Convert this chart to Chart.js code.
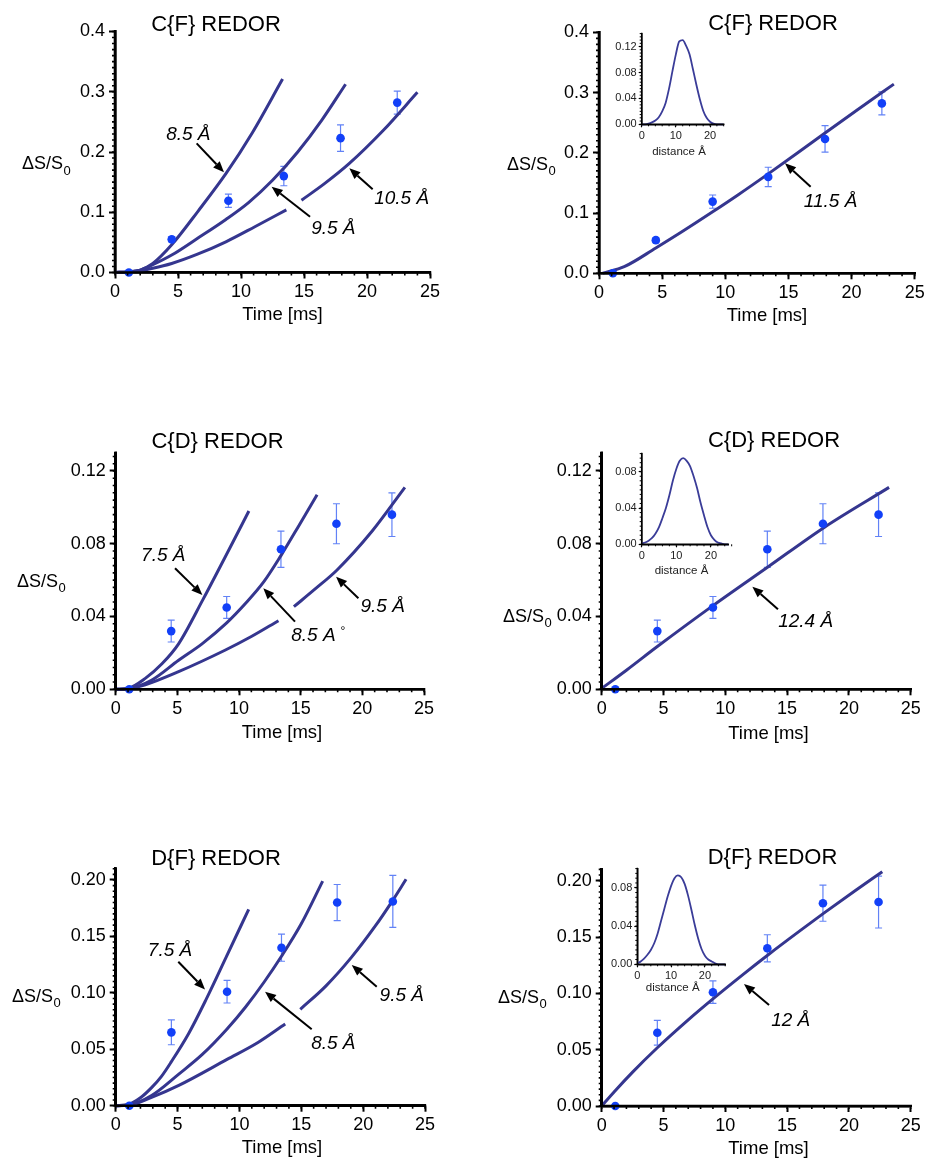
<!DOCTYPE html>
<html>
<head>
<meta charset="utf-8">
<script src="https://cdn.jsdelivr.net/npm/chart.js@4.4.1/dist/chart.umd.min.js"></script>
<style>
  body { margin: 0; background: #fff; width: 928px; height: 1162px; position: relative; overflow: hidden; }
  canvas { position: absolute; }
</style>
</head>
<body>
<script>
// ---------- measured data ----------
var times = [1.1, 4.5, 9.0, 13.4, 17.9, 22.4];

var cfValues = [0, 0.055, 0.119, 0.160, 0.223, 0.282];
var cfErrors = [0, 0.004, 0.011, 0.016, 0.022, 0.019];
var cdValues = [0, 0.032, 0.045, 0.077, 0.091, 0.096];
var cdErrors = [0, 0.006, 0.006, 0.010, 0.011, 0.012];
var dfValues = [0, 0.065, 0.101, 0.140, 0.180, 0.181];
var dfErrors = [0, 0.011, 0.010, 0.012, 0.016, 0.023];

// ---------- simulated curves (time, value) ----------
var cf85T = [0, 1, 2, 3, 4.5, 6.6, 8.8, 10.9, 13.3];
var cf85V = [0, 0.001, 0.004, 0.015, 0.046, 0.102, 0.164, 0.232, 0.321];
var cf95T = [0, 1, 2, 3, 4.5, 6.5, 8.8, 10.6, 12.5, 14.5, 16.4, 18.3];
var cf95V = [0, 0.001, 0.004, 0.013, 0.029, 0.056, 0.088, 0.116, 0.153, 0.200, 0.2525, 0.3125];
var cf105aT = [0, 1, 2, 3, 4.5, 6.5, 8.8, 11.1, 13.6];
var cf105aV = [0, 0.001, 0.003, 0.007, 0.015, 0.030, 0.051, 0.076, 0.104];
var cf105bT = [14.8, 16.6, 18.6, 21.3, 24.0];
var cf105bV = [0.120, 0.147, 0.181, 0.236, 0.299];
var cf115T = [0.3, 2, 4.5, 6.5, 9, 11, 13.4, 15.6, 17.9, 20.5, 23.35];
var cf115V = [0, 0.011, 0.042, 0.068, 0.102, 0.130, 0.165, 0.198, 0.233, 0.272, 0.314];

var cd75T = [0, 1, 2.4, 3.75, 5.1, 7.05, 8.9, 10.8];
var cd75V = [0, 0.0005, 0.006, 0.014, 0.025, 0.049, 0.073, 0.098];
var cd85T = [0, 1, 2.9, 5.1, 7, 9, 10.5, 12, 13.4, 14.9, 16.33];
var cd85V = [0, 0.0004, 0.005, 0.016, 0.025, 0.0365, 0.047, 0.059, 0.0735, 0.0905, 0.107];
var cd95aT = [0, 1, 2.4, 5.1, 8.9, 11, 13.2];
var cd95aV = [0, 0.0003, 0.0025, 0.0097, 0.0216, 0.029, 0.0377];
var cd95bT = [14.45, 16.2, 17.95, 20.8, 23.45];
var cd95bV = [0.0454, 0.0553, 0.0656, 0.087, 0.111];
var cd124T = [0, 2, 4.5, 9, 13.5, 18, 23.25];
var cd124V = [0.0005, 0.0105, 0.0235, 0.046, 0.0675, 0.089, 0.111];

var df75T = [0, 1, 2, 2.9, 3.7, 4.5, 5.9, 7.3, 8.9, 10.75];
var df75V = [0, 0.001, 0.007, 0.016, 0.026, 0.039, 0.064, 0.094, 0.131, 0.174];
var df85T = [0, 1, 2.9, 5.1, 7, 9, 10.5, 12, 13.4, 15, 16.73];
var df85V = [0, 0.0005, 0.009, 0.028, 0.0454, 0.068, 0.0875, 0.1096, 0.1324, 0.1612, 0.199];
var df95aT = [0, 1, 2.9, 5.1, 9, 11.5, 13.7];
var df95aV = [0, 0.0003, 0.0074, 0.018, 0.041, 0.056, 0.0724];
var df95bT = [14.92, 17, 19.05, 21, 22.34, 23.47];
var df95bV = [0.0854, 0.1062, 0.1314, 0.1595, 0.1811, 0.2006];
var df12T = [0, 1, 2.5, 4.5, 7, 9, 11.5, 13.5, 16, 18, 20.5, 22.7];
var df12V = [0, 0.0125, 0.0301, 0.0517, 0.0765, 0.0951, 0.1173, 0.1345, 0.1552, 0.1714, 0.1911, 0.208];

// ---------- distance distributions (insets) ----------
var distX = [0, 1, 2, 3, 4, 5, 6, 7, 8, 9, 10, 11, 12, 13, 14, 15, 16, 17, 18, 19, 20, 21, 22, 23, 24, 25, 26];
var distCF = [0, 0, 0.001, 0.003, 0.006, 0.011, 0.02, 0.033, 0.055, 0.082, 0.108, 0.128, 0.130, 0.121, 0.108, 0.085, 0.061, 0.039, 0.021, 0.010, 0.004, 0.001, 0, 0, 0];
var distCD = [0.001, 0.002, 0.004, 0.007, 0.012, 0.019, 0.029, 0.040, 0.054, 0.070, 0.083, 0.092, 0.095, 0.092, 0.086, 0.075, 0.062, 0.046, 0.032, 0.019, 0.010, 0.005, 0.002, 0.001, 0, 0];
var distDF = [0.001, 0.003, 0.006, 0.010, 0.015, 0.022, 0.032, 0.045, 0.058, 0.071, 0.082, 0.090, 0.093, 0.091, 0.084, 0.072, 0.057, 0.041, 0.027, 0.016, 0.009, 0.005, 0.003, 0.001, 0, 0, 0];

// ---------- tick values ----------
var timeTicks = [0, 5, 10, 15, 20, 25];
var cfTicks = [0, 0.1, 0.2, 0.3, 0.4];
var cdTicks = [0, 0.04, 0.08, 0.12];
var dfTicks = [0, 0.05, 0.10, 0.15, 0.20];
var distTicks = [0, 10, 20];
var insetCfTicks = [0, 0.04, 0.08, 0.12];
var insetTicks = [0, 0.04, 0.08];

// ---------- styling ----------
var FONT = '"Liberation Sans", Arial, Helvetica, sans-serif';
var CURVE = '#35368f';
var POINT = '#1240f8';
var ERR = '#6282f6';

function pts(xs, ys) {
    return xs.map(function(x, i) { return { x: x, y: ys[i] }; });
}

function arrow(ctx, x1, y1, x2, y2) {
    var a = Math.atan2(y2 - y1, x2 - x1);
    var hl = 11, hw = 4.5;
    var bx = x2 - hl * Math.cos(a), by = y2 - hl * Math.sin(a);
    ctx.strokeStyle = '#000';
    ctx.lineWidth = 2;
    ctx.beginPath();
    ctx.moveTo(x1, y1);
    ctx.lineTo(bx, by);
    ctx.stroke();
    ctx.fillStyle = '#000';
    ctx.beginPath();
    ctx.moveTo(x2, y2);
    ctx.lineTo(bx + hw * Math.sin(a), by - hw * Math.cos(a));
    ctx.lineTo(bx - hw * Math.sin(a), by + hw * Math.cos(a));
    ctx.closePath();
    ctx.fill();
}

// main panels: box = canvas rect on page, area = plot rect on page
var panels = [
    { box: [0, 0, 464, 400], area: [115, 430, 31.5, 272.5], yMax: 0.4, yTicks: cfTicks, dec: 1, yMinor: 0.01,
      values: cfValues, errors: cfErrors,
      curves: [[cf85T, cf85V], [cf95T, cf95V], [cf105aT, cf105aV], [cf105bT, cf105bV]],
      title: 'C{F} REDOR', titlePos: [216, 31], yLab: [22, 169], xLab: [282.5, 320],
      notes: [
          { text: '8.5 Å', at: [5.82, 0.232], from: [6.48, 0.2144], to: [8.65, 0.1663] },
          { text: '9.5 Å', at: [17.33, 0.076], from: [15.48, 0.0926], to: [12.43, 0.1424] },
          { text: '10.5 Å', at: [22.75, 0.1258], from: [20.45, 0.138], to: [18.6, 0.173] }
      ] },
    { box: [464, 0, 464, 400], area: [599, 914.7, 32.3, 273.3], yMax: 0.4, yTicks: cfTicks, dec: 1, yMinor: 0.01,
      values: cfValues, errors: cfErrors,
      curves: [[cf115T, cf115V]],
      title: 'C{F} REDOR', titlePos: [773, 29.5], yLab: [507, 169.5], xLab: [767, 321],
      notes: [
          { text: '11.5 Å', at: [18.34, 0.1217], from: [16.76, 0.1438], to: [14.73, 0.1826] }
      ] },
    { box: [0, 400, 464, 400], area: [115.7, 424, 452.8, 689.3], yMax: 0.13, yTicks: cdTicks, dec: 2, yMinor: 0.004,
      values: cdValues, errors: cdErrors,
      curves: [[cd75T, cd75V], [cd85T, cd85V], [cd95aT, cd95aV], [cd95bT, cd95bV]],
      title: 'C{D} REDOR', titlePos: [217.5, 447.5], yLab: [17, 586.5], xLab: [282, 738],
      notes: [
          { text: '7.5 Å', at: [3.86, 0.0748], from: [4.81, 0.0665], to: [7.03, 0.0518] },
          { text: '8.5 A', sup: '°', at: [16.43, 0.0308], from: [14.54, 0.0372], to: [11.97, 0.0556] },
          { text: '9.5 Å', at: [21.65, 0.0463], from: [19.68, 0.050], to: [17.87, 0.0619] }
      ] },
    { box: [464, 400, 464, 400], area: [601.7, 910.7, 452.8, 689.3], yMax: 0.13, yTicks: cdTicks, dec: 2, yMinor: 0.004,
      values: cdValues, errors: cdErrors,
      curves: [[cd124T, cd124V]],
      title: 'C{D} REDOR', titlePos: [774, 447], yLab: [503, 621.5], xLab: [768.5, 739],
      notes: [
          { text: '12.4 Å', at: [16.5, 0.0385], from: [14.26, 0.044], to: [12.19, 0.0564] }
      ] },
    { box: [0, 800, 464, 362], area: [115.7, 425, 868.7, 1105.7], yMax: 0.21, yTicks: dfTicks, dec: 2, yMinor: 0.005,
      values: dfValues, errors: dfErrors,
      curves: [[df75T, df75V], [df85T, df85V], [df95aT, df95aV], [df95bT, df95bV]],
      title: 'D{F} REDOR', titlePos: [216, 864.5], yLab: [12, 1001.5], xLab: [282, 1153],
      notes: [
          { text: '7.5 Å', at: [4.39, 0.1395], from: [5.06, 0.1276], to: [7.22, 0.103] },
          { text: '8.5 Å', at: [17.59, 0.0567], from: [15.84, 0.0677], to: [12.07, 0.101] },
          { text: '9.5 Å', at: [23.12, 0.0996], from: [21.1, 0.1055], to: [19.08, 0.1247] }
      ] },
    { box: [464, 800, 464, 362], area: [601.7, 910.7, 869.4, 1106], yMax: 0.21, yTicks: dfTicks, dec: 2, yMinor: 0.005,
      values: dfValues, errors: dfErrors,
      curves: [[df12T, df12V]],
      title: 'D{F} REDOR', titlePos: [772.5, 863.5], yLab: [498, 1002.5], xLab: [768.5, 1154],
      notes: [
          { text: '12 Å', at: [15.29, 0.0778], from: [13.54, 0.0896], to: [11.51, 0.1083] }
      ] }
];

var insets = [
    { box: [600, 25, 130, 135], area: [641.7, 723.7, 31.9, 124.3], xMax: 24, yMax: 0.14, yTicks: insetCfTicks,
      dist: distCF, label: [679, 155] },
    { box: [600, 445, 135, 135], area: [641.7, 728.2, 452.7, 544.3], xMax: 25, yMax: 0.1, yTicks: insetTicks,
      dist: distCD, label: [681.5, 573.5] },
    { box: [595, 860, 140, 140], area: [637.3, 725.2, 868.5, 964.3], xMax: 26, yMax: 0.1, yTicks: insetTicks,
      dist: distDF, label: [672.7, 990.7] }
];

function addCanvas(box) {
    var cv = document.createElement('canvas');
    cv.width = box[2];
    cv.height = box[3];
    cv.style.left = box[0] + 'px';
    cv.style.top = box[1] + 'px';
    document.body.appendChild(cv);
    return cv;
}

function minorTicks(chart, xMax, xStep, yMax, yStep, len, width) {
    var ctx = chart.ctx, a = chart.chartArea;
    var xs = chart.scales.x, ys = chart.scales.y;
    ctx.strokeStyle = '#000';
    ctx.lineWidth = width;
    ctx.beginPath();
    var n = Math.round(xMax / xStep);
    for (var i = 0; i <= n; i++) {
        var px = xs.getPixelForValue(i * xStep);
        ctx.moveTo(px, a.bottom);
        ctx.lineTo(px, a.bottom + len);
    }
    n = Math.floor(yMax / yStep + 1e-6);
    for (var j = 0; j <= n; j++) {
        var py = ys.getPixelForValue(j * yStep);
        ctx.moveTo(a.left - len, py);
        ctx.lineTo(a.left, py);
    }
    ctx.stroke();
}

function axisLines(chart, width) {
    var ctx = chart.ctx, a = chart.chartArea;
    ctx.strokeStyle = '#000';
    ctx.lineWidth = width;
    ctx.lineCap = 'square';
    ctx.beginPath();
    ctx.moveTo(a.left, a.top);
    ctx.lineTo(a.left, a.bottom);
    ctx.lineTo(a.right, a.bottom);
    ctx.stroke();
    ctx.lineCap = 'butt';
}

function makePanel(p) {
    var cv = addCanvas(p.box);
    var W = p.box[2], H = p.box[3], ox = p.box[0], oy = p.box[1];
    var datasets = [{
        data: pts(times, p.values), showLine: false, pointRadius: 4.3, pointHoverRadius: 4.3,
        backgroundColor: POINT, borderColor: POINT, borderWidth: 0, order: 0, clip: false
    }];
    p.curves.forEach(function(c) {
        datasets.push({
            data: pts(c[0], c[1]), showLine: true, pointRadius: 0, borderColor: CURVE, borderWidth: 3,
            cubicInterpolationMode: 'monotone', fill: false, order: 1, clip: false
        });
    });

    var decor = {
        id: 'decor',
        beforeDatasetsDraw: function(chart) {
            var ctx = chart.ctx, xs = chart.scales.x, ys = chart.scales.y;
            ctx.save();
            ctx.strokeStyle = ERR;
            ctx.lineWidth = 1.2;
            ctx.beginPath();
            times.forEach(function(t, i) {
                var e = p.errors[i];
                if (!e) return;
                var px = xs.getPixelForValue(t);
                var y1 = ys.getPixelForValue(p.values[i] - e), y2 = ys.getPixelForValue(p.values[i] + e);
                ctx.moveTo(px, y1); ctx.lineTo(px, y2);
                ctx.moveTo(px - 3.5, y1); ctx.lineTo(px + 3.5, y1);
                ctx.moveTo(px - 3.5, y2); ctx.lineTo(px + 3.5, y2);
            });
            ctx.stroke();
            ctx.restore();
        },
        afterDatasetsDraw: function(chart) {
            var ctx = chart.ctx;
            ctx.save();
            minorTicks(chart, 25, 1, p.yMax, p.yMinor, 3, 1.6);
            axisLines(chart, 2.6);
            ctx.restore();
        },
        afterDraw: function(chart) {
            var ctx = chart.ctx, xs = chart.scales.x, ys = chart.scales.y;
            ctx.save();
            ctx.fillStyle = '#000';
            // title
            ctx.font = '22px ' + FONT;
            ctx.textAlign = 'center';
            ctx.textBaseline = 'alphabetic';
            ctx.fillText(p.title, p.titlePos[0] - ox, p.titlePos[1] - oy);
            // x axis title
            ctx.font = '18.5px ' + FONT;
            ctx.fillText('Time [ms]', p.xLab[0] - ox, p.xLab[1] - oy);
            // y axis title with subscript
            ctx.textAlign = 'left';
            ctx.font = '18px ' + FONT;
            var s = 'ΔS/S';
            ctx.fillText(s, p.yLab[0] - ox, p.yLab[1] - oy);
            var w = ctx.measureText(s).width;
            ctx.font = '13px ' + FONT;
            ctx.fillText('0', p.yLab[0] - ox + w + 0.5, p.yLab[1] - oy + 5.5);
            // annotations
            p.notes.forEach(function(n) {
                arrow(ctx, xs.getPixelForValue(n.from[0]), ys.getPixelForValue(n.from[1]),
                      xs.getPixelForValue(n.to[0]), ys.getPixelForValue(n.to[1]));
                var cx = xs.getPixelForValue(n.at[0]), cy = ys.getPixelForValue(n.at[1]);
                ctx.fillStyle = '#000';
                ctx.font = 'italic 19px ' + FONT;
                ctx.textBaseline = 'middle';
                var tw = ctx.measureText(n.text).width;
                var sw = 0;
                if (n.sup) {
                    ctx.font = '12px ' + FONT;
                    sw = ctx.measureText(n.sup).width + 5;
                }
                var left = cx - (tw + sw) / 2;
                ctx.font = 'italic 19px ' + FONT;
                ctx.textAlign = 'left';
                ctx.fillText(n.text, left, cy + 2);
                if (n.sup) {
                    ctx.font = '12px ' + FONT;
                    ctx.fillText(n.sup, left + tw + 5, cy - 2);
                }
            });
            ctx.restore();
        }
    };

    new Chart(cv, {
        type: 'scatter',
        data: { datasets: datasets },
        options: {
            responsive: false,
            animation: false,
            events: [],
            layout: { autoPadding: false, padding: { left: 0, top: p.area[2] - oy, right: W - (p.area[1] - ox), bottom: 0 } },
            plugins: { legend: { display: false }, tooltip: { enabled: false } },
            scales: {
                x: {
                    type: 'linear', min: 0, max: 25,
                    afterBuildTicks: function(s) { s.ticks = timeTicks.map(function(v) { return { value: v }; }); },
                    afterFit: function(s) { s.height = H - (p.area[3] - oy); },
                    ticks: { color: '#000', font: { family: FONT, size: 18 }, padding: 3, maxRotation: 0, autoSkip: false,
                             callback: function(v) { return String(v); } },
                    grid: { drawOnChartArea: false, drawTicks: true, tickLength: 6, tickWidth: 2, tickColor: '#000' },
                    border: { display: true, color: '#000', width: 2.6 }
                },
                y: {
                    type: 'linear', min: 0, max: p.yMax,
                    afterBuildTicks: function(s) { s.ticks = p.yTicks.map(function(v) { return { value: v }; }); },
                    afterFit: function(s) { s.width = p.area[0] - ox; },
                    ticks: { color: '#000', font: { family: FONT, size: 18 }, padding: 4, autoSkip: false,
                             callback: function(v) { return v.toFixed(p.dec); } },
                    grid: { drawOnChartArea: false, drawTicks: true, tickLength: 6, tickWidth: 2, tickColor: '#000' },
                    border: { display: true, color: '#000', width: 2.6 }
                }
            }
        },
        plugins: [decor]
    });
}

function makeInset(q) {
    var cv = addCanvas(q.box);
    var W = q.box[2], H = q.box[3], ox = q.box[0], oy = q.box[1];
    var decor = {
        id: 'insetDecor',
        afterDatasetsDraw: function(chart) {
            var ctx = chart.ctx;
            ctx.save();
            minorTicks(chart, q.xMax, 2, q.yMax, 0.005, 2, 1);
            axisLines(chart, 1.5);
            ctx.restore();
        },
        afterDraw: function(chart) {
            var ctx = chart.ctx;
            ctx.save();
            ctx.fillStyle = '#222';
            ctx.font = '11.5px ' + FONT;
            ctx.textAlign = 'center';
            ctx.fillText('distance Å', q.label[0] - ox, q.label[1] - oy);
            ctx.restore();
        }
    };
    new Chart(cv, {
        type: 'scatter',
        data: { datasets: [{
            data: pts(distX.slice(0, q.dist.length), q.dist), showLine: true, pointRadius: 0,
            borderColor: '#3a3c98', borderWidth: 1.8, cubicInterpolationMode: 'monotone', fill: false, clip: false
        }] },
        options: {
            responsive: false,
            animation: false,
            events: [],
            layout: { autoPadding: false, padding: { left: 0, top: q.area[2] - oy, right: W - (q.area[1] - ox), bottom: 0 } },
            plugins: { legend: { display: false }, tooltip: { enabled: false } },
            scales: {
                x: {
                    type: 'linear', min: 0, max: q.xMax,
                    afterBuildTicks: function(s) { s.ticks = distTicks.map(function(v) { return { value: v }; }); },
                    afterFit: function(s) { s.height = H - (q.area[3] - oy); },
                    ticks: { color: '#222', font: { family: FONT, size: 11 }, padding: 2, maxRotation: 0, autoSkip: false,
                             callback: function(v) { return String(v); } },
                    grid: { drawOnChartArea: false, drawTicks: true, tickLength: 3, tickWidth: 1.2, tickColor: '#000' },
                    border: { display: true, color: '#000', width: 1.5 }
                },
                y: {
                    type: 'linear', min: 0, max: q.yMax,
                    afterBuildTicks: function(s) { s.ticks = q.yTicks.map(function(v) { return { value: v }; }); },
                    afterFit: function(s) { s.width = q.area[0] - ox; },
                    ticks: { color: '#222', font: { family: FONT, size: 11 }, padding: 2, autoSkip: false,
                             callback: function(v) { return v.toFixed(2); } },
                    grid: { drawOnChartArea: false, drawTicks: true, tickLength: 3, tickWidth: 1.2, tickColor: '#000' },
                    border: { display: true, color: '#000', width: 1.5 }
                }
            }
        },
        plugins: [decor]
    });
}

panels.forEach(makePanel);
insets.forEach(makeInset);
</script>
</body>
</html>
